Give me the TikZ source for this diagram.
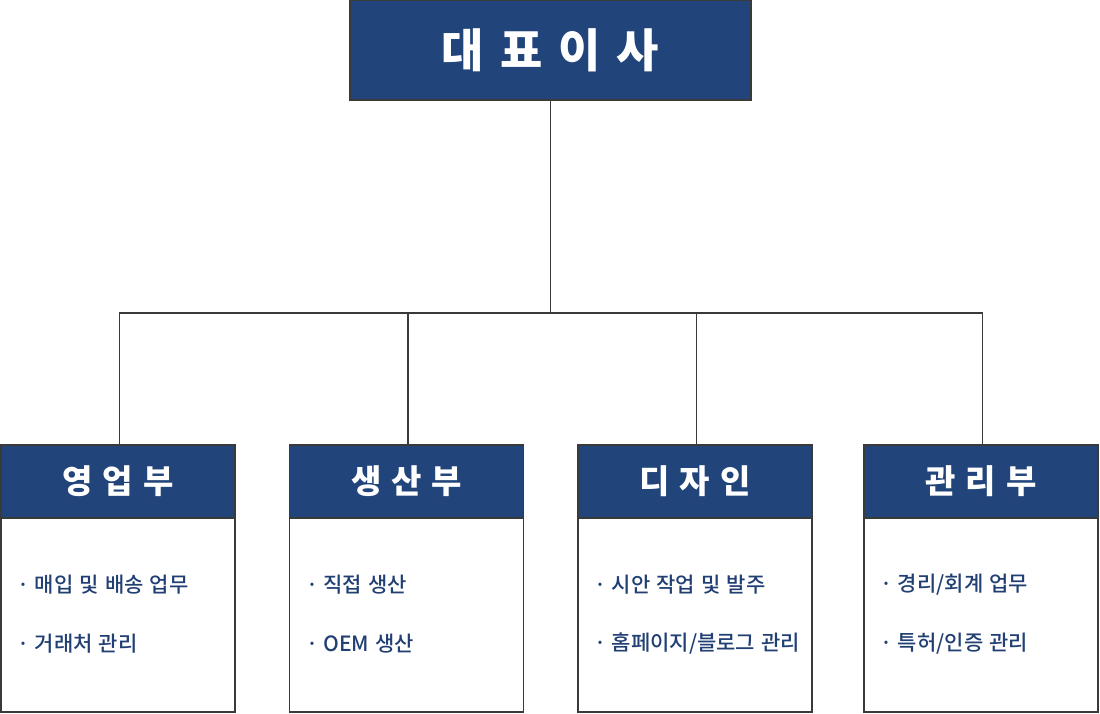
\documentclass[tikz,border=0pt]{standalone}
\usepackage{fontspec}
\setmainfont{Noto Sans CJK KR}
\newfontfamily\krmed[WordSpace=1.3]{Noto Sans CJK KR Medium}
\usetikzlibrary{positioning}
\definecolor{navy}{HTML}{21447A}
\definecolor{itemblue}{HTML}{213F73}
\definecolor{edge}{HTML}{3A3A3A}

\begin{document}
\begin{tikzpicture}[
    x = 1pt, y = -1pt,
    headbox/.style = {draw = edge, line width = 1.3pt, fill = navy, text = white,
      font = \fontsize{33}{33}\selectfont\bfseries, minimum width = 234pt, minimum height = 73pt, inner sep = 0pt},
    bodybox/.style = {draw = edge, line width = 1.3pt, fill = white,
      minimum width = 234pt, minimum height = 194pt, inner sep = 0pt},
    itemtext/.style = {text = itemblue, font = \fontsize{21}{21}\krmed, anchor = west, inner sep = 0pt},
    link/.style = {draw = edge, line width = 1.1pt}
    ]
    \useasboundingbox (0,0) rectangle (1100,714);
    % top box
    \node[headbox, minimum width = 401pt, minimum height = 100pt,
      font = \fontsize{46}{46}\selectfont\bfseries] (ceo) at (550.5,50) {대\hspace{0.35em}표\hspace{0.35em}이\hspace{0.35em}사};
    \coordinate (bus) at (550.5,313);
    % departments
    \foreach \i/\x/\name in {1/118/영\hspace{0.3em}업\hspace{0.3em}부,
                             2/406.5/생\hspace{0.3em}산\hspace{0.3em}부,
                             3/695/디\hspace{0.3em}자\hspace{0.3em}인,
                             4/981/관\hspace{0.3em}리\hspace{0.3em}부} {
      \node[bodybox] (bd\i) at (\x,615) {};
      \node[headbox] (hd\i) at (\x,481.5) {\name};
    }
    \draw[link] (ceo.south) -- (bus);
    \foreach \i in {1,...,4}
      \draw[link] (bus) -| ([xshift = 1.5pt]hd\i.north);
    % duties
    \foreach \i/\a/\b in {1/{매입 및 배송 업무}/{거래처 관리},
                          2/{직접 생산}/{OEM 생산},
                          3/{시안 작업 및 발주}/{홈페이지/블로그 관리},
                          4/{경리/회계 업무}/{특허/인증 관리}} {
      \node[itemtext] (ia\i) at ([xshift = 17pt]bd\i.west |- 0,585) {·\hspace{0.25em}\a};
      \node[itemtext] (ib\i) at ([xshift = 17pt]bd\i.west |- 0,644) {·\hspace{0.25em}\b};
    }
\end{tikzpicture}
\end{document}
